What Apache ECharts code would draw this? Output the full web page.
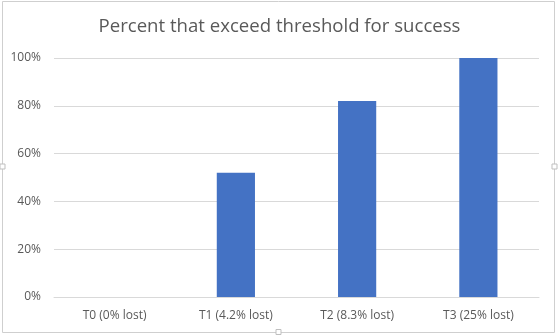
<!DOCTYPE html>
<html>
<head>
<meta charset="utf-8">
<script src="https://cdn.jsdelivr.net/npm/echarts@6/dist/echarts.min.js"></script>
<style>
  html, body { margin: 0; padding: 0; background: #fff; }
  #chart { width: 559px; height: 336px; }
</style>
</head>
<body>
<div id="chart"></div>
<script>
// Share of participants exceeding the success threshold, by condition
const categories = ['T0 (0% lost)', 'T1 (4.2% lost)', 'T2 (8.3% lost)', 'T3 (25% lost)'];
const percentExceeding = [0, 52, 82, 100];
const yTicks = [0, 20, 40, 60, 80, 100];

const FONT = '"Open Sans", "Liberation Sans", sans-serif';
const TEXT = '#595959';

const chart = echarts.init(document.getElementById('chart'), null, { renderer: 'canvas' });

// Frame with small selection handles on each edge midpoint
const handle = (cx, cy) => ({
  type: 'rect',
  shape: { x: cx - 2.5, y: cy - 2.5, width: 5, height: 5 },
  style: { fill: '#fff', stroke: '#bfbfbf', lineWidth: 1 },
  z: 10
});

chart.setOption({
  animation: false,
  title: {
    text: 'Percent that exceed threshold for success',
    left: 'center',
    top: 12,
    textStyle: { fontFamily: FONT, fontSize: 18.6, fontWeight: 'normal', color: TEXT }
  },
  grid: { left: 54, right: 20, top: 58, bottom: 39, containLabel: false },
  xAxis: {
    type: 'category',
    data: categories,
    axisLine: { show: true, lineStyle: { color: '#d9d9d9' } },
    axisTick: { show: false },
    axisLabel: { fontFamily: FONT, fontSize: 12, color: TEXT, margin: 13 }
  },
  yAxis: {
    type: 'value',
    min: yTicks[0],
    max: yTicks[yTicks.length - 1],
    interval: yTicks[1] - yTicks[0],
    axisLine: { show: false },
    axisTick: { show: false },
    splitLine: { lineStyle: { color: '#d9d9d9', width: 1 } },
    axisLabel: { fontFamily: FONT, fontSize: 12, color: TEXT, margin: 13, formatter: '{value}%' }
  },
  series: [{
    type: 'bar',
    data: percentExceeding,
    barWidth: '31.5%',
    itemStyle: { color: '#4472C4' }
  }],
  graphic: [
    {
      type: 'rect',
      shape: { x: 2.5, y: 1.5, width: 552, height: 331 },
      style: { fill: 'none', stroke: '#cfcfcf', lineWidth: 1 },
      z: 9
    },
    handle(278.5, 332),
    handle(2.5, 166.5),
    handle(554.5, 166.5)
  ]
});
</script>
</body>
</html>
